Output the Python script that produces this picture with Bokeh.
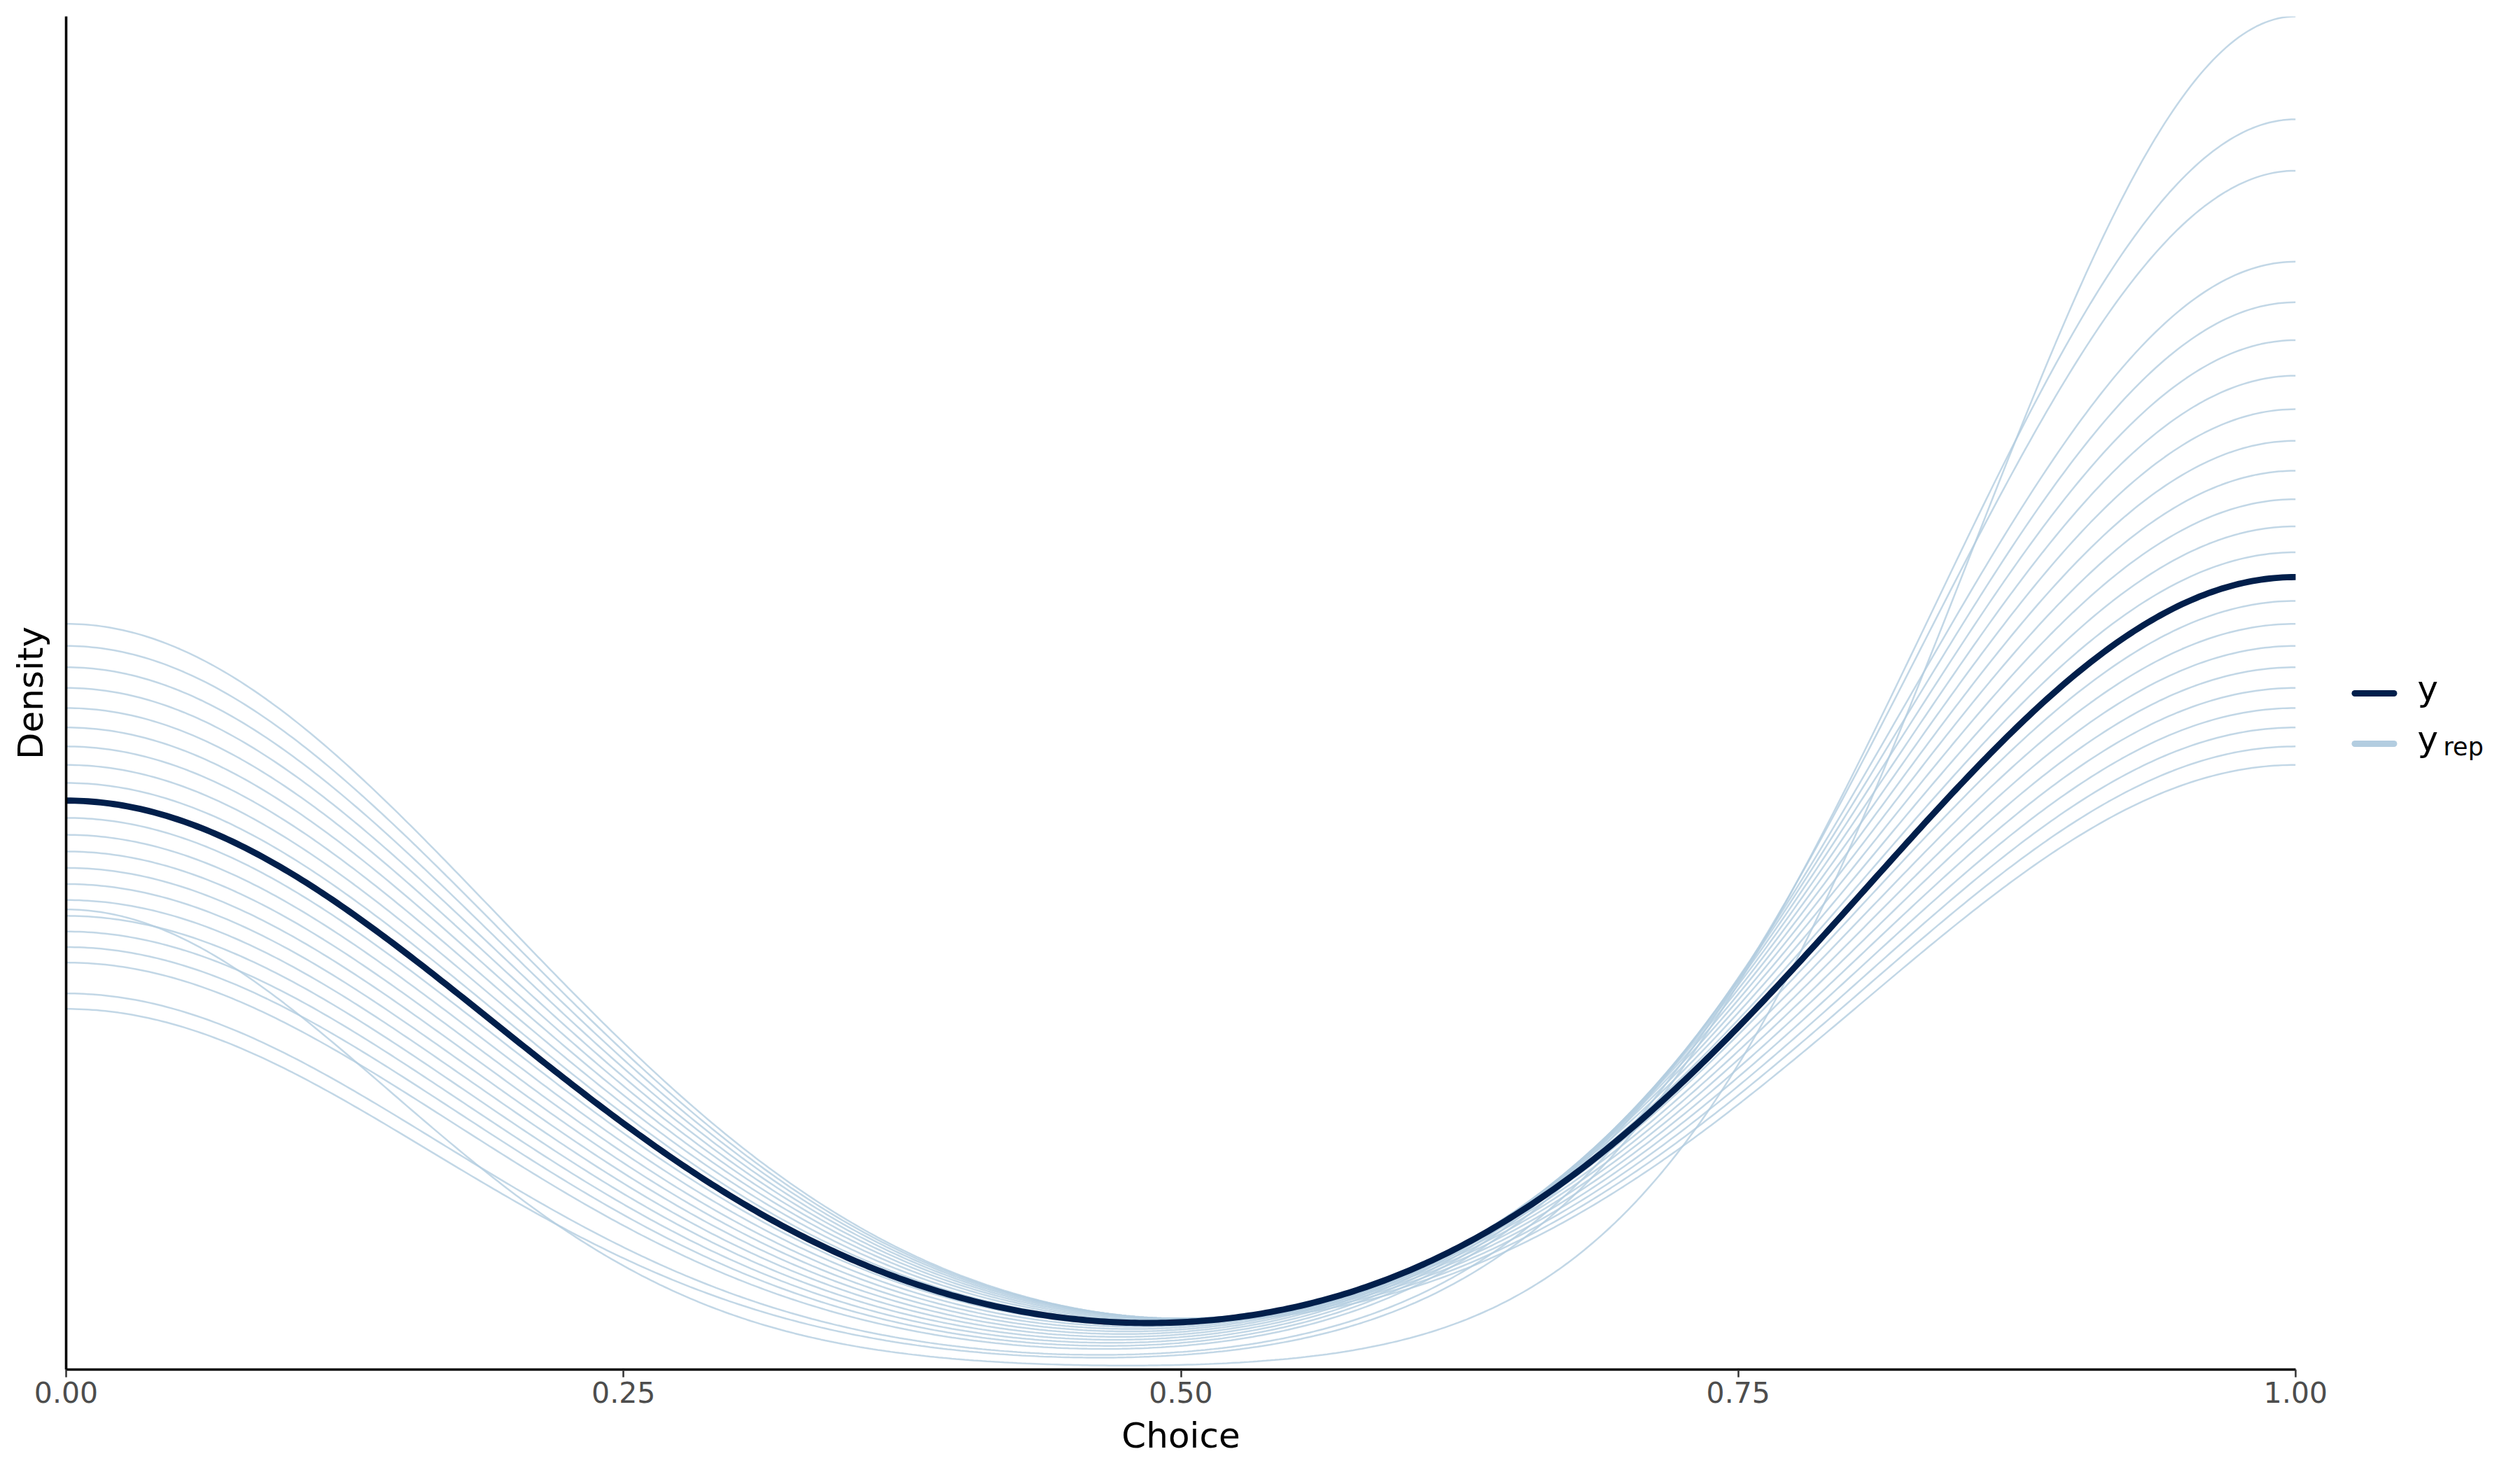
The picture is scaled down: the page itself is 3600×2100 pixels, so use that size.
import numpy as np
from bokeh.plotting import figure
from bokeh.layouts import row
from bokeh.models import Range1d, FixedTicker, NumeralTickFormatter
from bokeh.core.properties import value
from bokeh.embed import file_html
from bokeh.resources import INLINE

# ---------------- data (binary "Choice" outcome, 0/1) ----------------
n_obs = 67                      # observations per data set
y_ones = 39                     # observed number of 1s
yrep_ones = [44, 36, 49, 31, 41, 52, 38, 46, 33, 50, 43,
             35, 47, 30, 42, 51, 37, 45, 32, 48, 34, 40]   # replicated data sets
x_ticks = [0.0, 0.25, 0.50, 0.75, 1.0]
x_title = "Choice"
y_title = "Density"
legend_y = "y"
legend_yrep = ("y", "rep")

Y_COLOR = "#011f4b"
YREP_COLOR = "#b3cde0"
FONT = "DejaVu Sans"


def sample(k):
    return np.r_[np.zeros(n_obs - k), np.ones(k)]


def bw_nrd0(x):
    hi = np.std(x, ddof=1)
    q75, q25 = np.quantile(x, [0.75, 0.25])
    lo = min(hi, (q75 - q25) / 1.34)
    if lo == 0:
        lo = hi
    return 0.9 * lo * len(x) ** (-0.2)


grid = np.linspace(0.0, 1.0, 512)


def density(k):
    x = sample(k)
    h = bw_nrd0(x)
    z = (grid[:, None] - x[None, :]) / h
    return np.exp(-0.5 * z * z).sum(axis=1) / (len(x) * h * np.sqrt(2 * np.pi))


dens_y = density(y_ones)
dens_rep = [density(k) for k in yrep_ones]
ymax = max(dens_y.max(), max(d.max() for d in dens_rep))

# ---------------- main panel ----------------
H = 2100
MAIN_W = 3355
LEG_W = 3600 - MAIN_W
LEFT, TOP, BOTTOM = 94, 23, 144
RIGHT = MAIN_W - 3279
FRAME_BOTTOM = H - BOTTOM

p = figure(width=MAIN_W, height=H, output_backend="svg", toolbar_location=None,
           x_range=Range1d(0, 1), y_range=Range1d(0, ymax),
           min_border_left=LEFT, min_border_right=RIGHT,
           min_border_top=TOP, min_border_bottom=BOTTOM)
p.outline_line_color = None
p.background_fill_color = "white"
p.border_fill_color = "white"
p.xgrid.visible = False
p.ygrid.visible = False

for d in dens_rep:
    p.line(grid, d, line_color=YREP_COLOR, line_alpha=0.8, line_width=2.5)
p.line(grid, dens_y, line_color=Y_COLOR, line_width=8.9, line_cap="round", line_join="round")

# x axis
xa = p.xaxis[0]
xa.ticker = FixedTicker(ticks=x_ticks)
xa.formatter = NumeralTickFormatter(format="0.00")
xa.minor_tick_line_color = None
xa.major_tick_in = 0
xa.major_tick_out = 11
xa.major_tick_line_color = "#333333"
xa.major_tick_line_width = 2.5
xa.axis_line_color = "black"
xa.axis_line_width = 3.6
xa.major_label_text_font = FONT
xa.major_label_text_font_size = "41px"
xa.major_label_text_color = "#4d4d4d"
xa.major_label_standoff = 6
xa.axis_label = x_title
xa.axis_label_text_font = FONT
xa.axis_label_text_font_size = "50px"
xa.axis_label_text_font_style = "normal"
xa.axis_label_text_color = "black"
xa.axis_label_standoff = 15

# y axis
ya = p.yaxis[0]
ya.ticker = FixedTicker(ticks=[])
ya.minor_tick_line_color = None
ya.major_tick_line_color = None
ya.major_tick_in = 0
ya.major_tick_out = 0
ya.major_label_standoff = 0
ya.axis_line_color = "black"
ya.axis_line_width = 3.6
ya.axis_label = y_title
ya.axis_label_text_font = FONT
ya.axis_label_text_font_size = "50px"
ya.axis_label_text_font_style = "normal"
ya.axis_label_text_color = "black"
ya.axis_label_standoff = 22

# ---------------- legend panel (page pixel coordinates, y downwards) ----------------
# its frame spans the same rows as the main panel (TOP .. FRAME_BOTTOM)
lg = figure(width=LEG_W, height=H, output_backend="svg", toolbar_location=None,
            x_range=Range1d(MAIN_W, 3600), y_range=Range1d(FRAME_BOTTOM, TOP),
            x_axis_type=None, y_axis_type=None,
            min_border_left=0, min_border_right=0,
            min_border_top=TOP, min_border_bottom=BOTTOM)
lg.outline_line_color = None
lg.background_fill_color = "white"
lg.border_fill_color = "white"
lg.xgrid.visible = False
lg.ygrid.visible = False

lg.segment(x0=[3363.5], y0=[990], x1=[3419.5], y1=[990],
           line_color=Y_COLOR, line_width=9, line_cap="round")
lg.segment(x0=[3363.5], y0=[1062], x1=[3419.5], y1=[1062],
           line_color=YREP_COLOR, line_width=9, line_cap="round")
lg.text(x=[3453, 3453], y=[983, 1055], text=[legend_y, legend_yrep[0]],
        text_font=value(FONT), text_font_size="50px", text_color="black",
        text_align="left", text_baseline="alphabetic")
lg.text(x=[3490], y=[1066], text=[legend_yrep[1]],
        text_font=value(FONT), text_font_size="35px", text_color="black",
        text_align="left", text_baseline="alphabetic")

layout = row(p, lg, spacing=0)
open("out.html", "w").write(file_html(layout, INLINE))
